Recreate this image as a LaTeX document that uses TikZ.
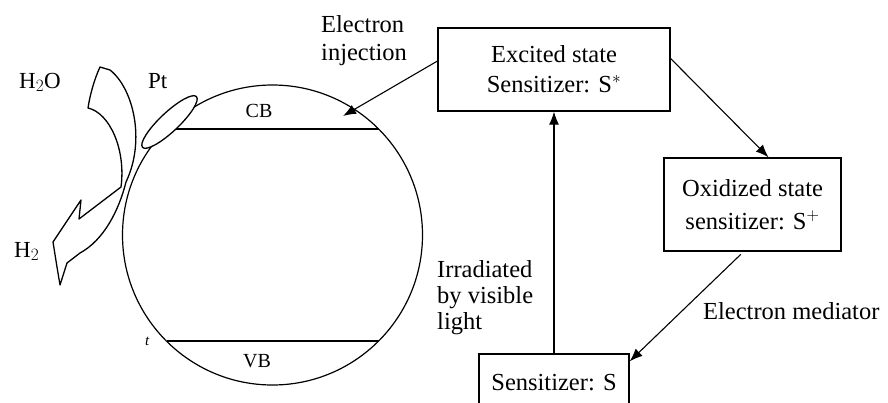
\documentclass[tikz,border=0pt]{standalone}
\usepackage{fontspec}
\setmainfont{Liberation Serif}
\usetikzlibrary{arrows.meta,calc}
\begin{document}
\begin{tikzpicture}[x=1pt,y=-1pt,
  box/.style={draw,line width=1.3pt,inner sep=0pt,align=center},
  lbl/.style={inner sep=0pt,font=\fontsize{24.5}{28}\selectfont},
  arr/.style={line width=1.1pt,-{Latex[length=13pt,width=10pt]}},
  thinline/.style={line width=1.2pt}]
\useasboundingbox (0,0) rectangle (888,402);
\clip (0,0) rectangle (888,402);

% particle
\draw[thinline] (272.5,235) circle [radius=150];
\draw[thinline] (166,129) -- (379,129);
\draw[thinline] (166.5,341) -- (378.5,341);
\draw[line width=1.3pt,fill=white,rotate around={43.3:(169.5,122)}] (169.5,122) ellipse [x radius=37, y radius=9.5];
\node[lbl,anchor=base,font=\fontsize{20}{22}\selectfont] (cb) at (259,117) {CB};
\node[lbl,anchor=base,font=\fontsize{20}{22}\selectfont] (vb) at (257,367) {VB};
\node[lbl,anchor=base west,font=\fontsize{15}{18}\selectfont\itshape] (tm) at (145,345) {t};

% H2O -> H2 arrow shape
\draw[line width=1.3pt,line join=round]
  (100,67) -- (110,70) .. controls (133,88) and (146,140) .. (126,182)
  .. controls (119,210) and (104,240) .. (80,253) -- (67,263) -- (60,285)
  -- (57,267) -- (53,242) -- (81,200) -- (79,219) -- (121,187)
  .. controls (126,150) and (110,113) .. (88,108)
  .. controls (90,95) and (94,80) .. cycle;

\node[lbl,anchor=base west,font=\fontsize{23}{26}\selectfont] (h2o) at (19,88) {H$_2$O};
\node[lbl,anchor=base west,font=\fontsize{23}{26}\selectfont] (pt) at (148,88) {Pt};
\node[lbl,anchor=base west,font=\fontsize{23}{26}\selectfont] (h2) at (14,257) {H$_2$};

% boxes
\node[box,minimum width=232,minimum height=83,font=\fontsize{24.5}{30}\selectfont] (exc) at (554,69.5) {Excited state\\Sensitizer: S$^{*}$};
\node[box,minimum width=177,minimum height=93,font=\fontsize{24.5}{33}\selectfont] (oxi) at (752.5,204.5) {Oxidized state\\sensitizer: S$^{+}$};
\node[box,minimum width=150,minimum height=60,font=\fontsize{24.5}{27}\selectfont,text depth=4pt] (sen) at (554,384) {Sensitizer: S};

\coordinate (cbtip) at (343,116);

% arrows
\draw[arr] ($(exc.north west)!0.4!(exc.south west)$) -- (cbtip);
\draw[arr] ($(exc.north east)!0.37!(exc.south east)$) -- ($(oxi.north west)!0.59!(oxi.north east)$);
\draw[arr] (sen.north) -- (exc.south);
\draw[arr,shorten <=4pt] ($(oxi.south west)!0.45!(oxi.south east)$) -- ([yshift=-8pt]sen.north east);

% labels
\node[lbl,anchor=north west,align=left,font=\fontsize{24.5}{28}\selectfont] (einj) at (321,15) {Electron\\injection};
\node[lbl,anchor=north west,align=left,font=\fontsize{24.5}{26}\selectfont] (irr) at (437,260) {Irradiated\\by visible\\light};
\node[lbl,anchor=base west] (med) at (703,319) {Electron mediator};
\end{tikzpicture}
\end{document}
